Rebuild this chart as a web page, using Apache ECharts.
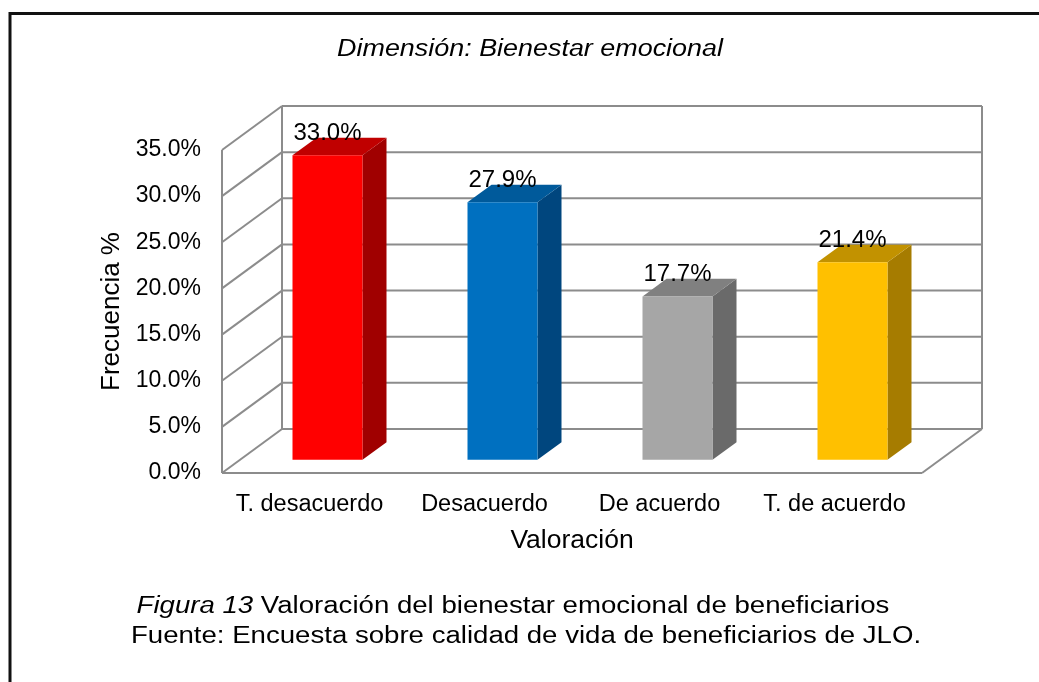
<!DOCTYPE html>
<html>
<head>
<meta charset="utf-8">
<title>Bienestar emocional</title>
<script src="https://cdn.jsdelivr.net/npm/echarts@6/dist/echarts.min.js"></script>
<style>
  html, body { margin: 0; padding: 0; background: #fff; }
  #chart { width: 1039px; height: 682px; }
</style>
</head>
<body>
<div id="chart"></div>
<script>
// datos
const categories = ['T. desacuerdo', 'Desacuerdo', 'De acuerdo', 'T. de acuerdo'];
const frecuencia = [33.0, 27.9, 17.7, 21.4];
const yTicks = [0, 5, 10, 15, 20, 25, 30, 35];

// colores de las caras (frente, tapa, lateral)
const frontColors = ['#ff0000', '#0070c0', '#a6a6a6', '#ffc000'];
const topColors = ['#c00000', '#005a9b', '#808080', '#c29200'];
const sideColors = ['#a00000', '#00467e', '#6a6a6a', '#a67c00'];

const FONT = 'Arial, "Liberation Sans", sans-serif';
const WALL = '#8c8c8c';
// profundidad de la caja 3D (px)
const DX = 60;
const DY = -44;
// el texto del original esta algo ensanchado
const STRETCH = 1.2;

const chart = echarts.init(document.getElementById('chart'));

const line = (x1, y1, x2, y2) => ({
  type: 'line',
  shape: { x1, y1, x2, y2 },
  style: { stroke: WALL, lineWidth: 2 }
});

// lineas de la pared izquierda y del fondo
const renderWalls = (params, api) => {
  const cs = params.coordSys;
  const y = api.coord([0, api.value(1)])[1];
  const left = cs.x;
  const right = cs.x + cs.width;
  return {
    type: 'group',
    children: [
      line(left, y, left + DX, y + DY),
      line(left + DX, y + DY, right + DX, y + DY)
    ]
  };
};

// aristas del marco
const renderFrame = (params) => {
  const cs = params.coordSys;
  const l = cs.x, r = cs.x + cs.width, t = cs.y, b = cs.y + cs.height;
  return {
    type: 'group',
    children: [
      line(l, t, l, b),
      line(l + DX, t + DY, l + DX, b + DY),
      line(r + DX, t + DY, r + DX, b + DY),
      line(l, b, r, b),
      line(r, b, r + DX, b + DY)
    ]
  };
};

// barras 3D
const renderBar = (params, api) => {
  const i = api.value(0);
  const v = api.value(1);
  const band = api.size([1, 0])[0];
  const base = api.coord([i, 0]);
  const top = api.coord([i, v]);
  const w = band * 0.4;
  const x0 = base[0] - w / 2 + DX * 0.3;
  const x1 = x0 + w;
  const yb = base[1] + DY * 0.3;
  const yt = top[1] + DY * 0.3;
  const ddx = DX * 0.4, ddy = DY * 0.4;
  return {
    type: 'group',
    children: [
      {
        type: 'polygon',
        shape: { points: [[x1, yt], [x1 + ddx, yt + ddy], [x1 + ddx, yb + ddy], [x1, yb]] },
        style: { fill: sideColors[i] }
      },
      {
        type: 'polygon',
        shape: { points: [[x0, yt], [x0 + ddx, yt + ddy], [x1 + ddx, yt + ddy], [x1, yt]] },
        style: { fill: topColors[i] }
      },
      {
        type: 'rect',
        shape: { x: x0, y: yt, width: w, height: yb - yt },
        style: { fill: frontColors[i] }
      },
      {
        type: 'text',
        x: (x0 + x1) / 2,
        y: yt - 22,
        style: {
          text: v.toFixed(1) + '%',
          fill: '#000',
          font: '24px ' + FONT,
          align: 'center',
          verticalAlign: 'middle'
        }
      }
    ]
  };
};

chart.setOption({
  animation: false,
  backgroundColor: '#fff',
  textStyle: { fontFamily: FONT },
  graphic: [
    {
      type: 'rect',
      shape: { x: 10, y: 13.5, width: 1200, height: 900 },
      style: { fill: 'none', stroke: '#111', lineWidth: 3 }
    },
    {
      type: 'text',
      x: 530,
      y: 50,
      scaleX: 1.17,
      style: {
        text: 'Dimensión: Bienestar emocional',
        fill: '#000',
        font: 'italic 23px ' + FONT,
        align: 'center',
        verticalAlign: 'middle'
      }
    },
    {
      type: 'text',
      x: 513,
      y: 607,
      scaleX: STRETCH,
      style: {
        text: '{i|Figura 13} Valoración del bienestar emocional de beneficiarios',
        fill: '#000',
        font: '23px ' + FONT,
        align: 'center',
        verticalAlign: 'middle',
        rich: {
          i: { fontStyle: 'italic', fontSize: 23, fontFamily: FONT, fill: '#000' }
        }
      }
    },
    {
      type: 'text',
      x: 526,
      y: 637,
      scaleX: STRETCH,
      style: {
        text: 'Fuente: Encuesta sobre calidad de vida de beneficiarios de JLO.',
        fill: '#000',
        font: '23px ' + FONT,
        align: 'center',
        verticalAlign: 'middle'
      }
    }
  ],
  grid: { left: 222, right: 117, top: 150, bottom: 209 },
  xAxis: {
    type: 'category',
    data: categories,
    axisLine: { show: false },
    axisTick: { show: false },
    splitLine: { show: false },
    axisLabel: { interval: 0, margin: 20, fontSize: 23.5, color: '#000' },
    name: 'Valoración',
    nameLocation: 'middle',
    nameGap: 54,
    nameTextStyle: { fontSize: 26.5, color: '#000' }
  },
  yAxis: {
    type: 'value',
    min: 0,
    max: 35,
    interval: 5,
    axisLine: { show: false },
    axisTick: { show: false },
    splitLine: { show: false },
    axisLabel: {
      margin: 21,
      fontSize: 23,
      color: '#000',
      formatter: (v) => v.toFixed(1) + '%'
    },
    name: 'Frecuencia %',
    nameLocation: 'middle',
    nameGap: 97,
    nameTextStyle: { fontSize: 26, color: '#000' }
  },
  series: [
    {
      type: 'custom',
      name: 'paredes',
      renderItem: renderWalls,
      data: yTicks.map((v) => [0, v]),
      z: 1,
      silent: true
    },
    {
      type: 'custom',
      name: 'marco',
      renderItem: renderFrame,
      data: [[0, 0]],
      z: 1,
      silent: true
    },
    {
      type: 'custom',
      name: 'Frecuencia',
      renderItem: renderBar,
      data: frecuencia.map((v, i) => [i, v]),
      z: 2
    }
  ]
});

window.addEventListener('resize', () => chart.resize());
</script>
</body>
</html>
